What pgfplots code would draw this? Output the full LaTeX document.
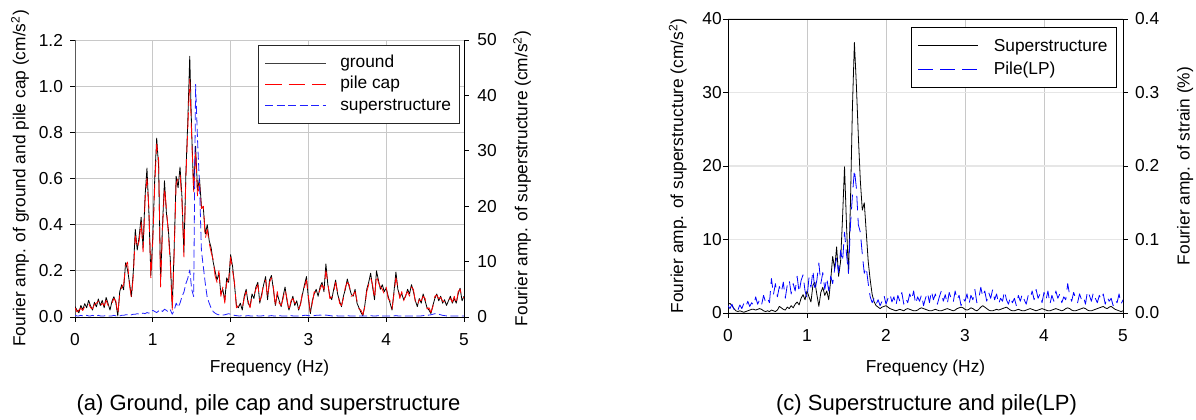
\documentclass[border=0pt]{standalone}
\usepackage{fontspec}
\setmainfont{Liberation Sans}
\usepackage{pgfplots}
\usepackage{pgfplotstable}
\pgfplotsset{compat=1.18}

\definecolor{GridGray}{HTML}{C8C8C8}
\definecolor{GridLight}{HTML}{E6E6E6}
\definecolor{CurveRed}{HTML}{FF0000}
\definecolor{CurveBlue}{HTML}{2020FF}
\definecolor{FrameGray}{HTML}{5A5A5A}

\newcommand{\lbl}{\fontsize{13}{15}\selectfont}

% (a) ground, pile cap [cm/s2, left axis], superstructure [cm/s2, right axis]
\pgfplotstableread{
f g p s
0.000 0.045 0.040 0.3
0.025 0.030 0.022 0.2
0.050 0.018 0.030 0.2
0.075 0.050 0.038 0.3
0.100 0.032 0.028 0.2
0.125 0.058 0.045 0.2
0.150 0.040 0.052 0.3
0.175 0.072 0.060 0.2
0.200 0.048 0.040 0.2
0.225 0.030 0.036 0.3
0.250 0.064 0.055 0.2
0.275 0.044 0.060 0.2
0.300 0.078 0.068 0.3
0.325 0.050 0.045 0.2
0.350 0.072 0.060 0.2
0.375 0.040 0.050 0.2
0.400 0.085 0.072 0.3
0.425 0.058 0.050 0.2
0.450 0.030 0.044 0.2
0.475 0.068 0.060 0.2
0.500 0.088 0.080 0.3
0.525 0.062 0.070 0.2
0.550 0.005 0.012 0.1
0.575 0.110 0.098 0.2
0.600 0.140 0.130 0.3
0.625 0.118 0.140 0.3
0.650 0.235 0.222 0.4
0.675 0.205 0.238 0.4
0.700 0.150 0.138 0.3
0.725 0.088 0.085 0.4
0.750 0.200 0.180 0.5
0.775 0.380 0.352 0.5
0.800 0.290 0.300 0.6
0.825 0.350 0.330 0.5
0.850 0.432 0.410 0.6
0.875 0.300 0.282 0.7
0.900 0.520 0.500 0.6
0.925 0.645 0.600 0.8
0.950 0.450 0.470 0.7
0.975 0.180 0.170 0.9
1.000 0.350 0.330 1.2
1.025 0.600 0.570 1.0
1.050 0.775 0.750 0.8
1.075 0.650 0.680 1.1
1.100 0.160 0.130 1.3
1.125 0.400 0.380 1.0
1.150 0.590 0.560 1.4
1.175 0.450 0.470 1.2
1.200 0.380 0.360 0.9
1.225 0.250 0.230 1.3
1.250 0.040 0.030 0.5
1.275 0.300 0.280 1.2
1.300 0.610 0.580 2.5
1.325 0.560 0.600 1.8
1.350 0.650 0.620 2.5
1.375 0.520 0.500 3.7
1.400 0.280 0.260 4.5
1.425 0.620 0.600 6.0
1.450 0.850 0.820 7.0
1.475 1.130 1.030 8.5
1.500 0.800 0.780 5.0
1.525 0.550 0.540 3.7
1.550 0.740 0.720 42.0
1.575 0.550 0.520 32.0
1.600 0.600 0.580 24.0
1.625 0.480 0.470 12.0
1.650 0.470 0.480 9.0
1.675 0.360 0.340 6.0
1.700 0.400 0.380 3.5
1.725 0.330 0.320 2.5
1.750 0.300 0.280 1.6
1.775 0.240 0.250 1.0
1.800 0.200 0.180 0.7
1.825 0.160 0.150 0.5
1.850 0.190 0.200 0.4
1.875 0.100 0.090 0.3
1.900 0.120 0.130 0.35
1.925 0.070 0.060 0.4
1.950 0.170 0.150 0.5
1.975 0.150 0.160 0.6
2.000 0.270 0.260 0.5
2.025 0.220 0.200 0.4
2.050 0.140 0.150 0.3
2.075 0.050 0.040 0.25
2.100 0.040 0.050 0.2
2.125 0.060 0.045 0.2
2.150 0.030 0.040 0.25
2.175 0.090 0.080 0.2
2.200 0.120 0.110 0.2
2.225 0.060 0.070 0.25
2.250 0.045 0.040 0.2
2.275 0.100 0.090 0.2
2.300 0.080 0.095 0.2
2.325 0.130 0.120 0.25
2.350 0.150 0.140 0.2
2.375 0.060 0.070 0.2
2.400 0.100 0.090 0.2
2.425 0.140 0.150 0.25
2.450 0.175 0.160 0.2
2.475 0.075 0.085 0.2
2.500 0.160 0.150 0.2
2.525 0.180 0.170 0.25
2.550 0.120 0.130 0.2
2.575 0.050 0.045 0.2
2.600 0.100 0.110 0.2
2.625 0.070 0.060 0.25
2.650 0.045 0.050 0.2
2.675 0.090 0.080 0.2
2.700 0.130 0.120 0.2
2.725 0.070 0.080 0.2
2.750 0.030 0.025 0.2
2.775 0.060 0.070 0.25
2.800 0.090 0.080 0.2
2.825 0.050 0.060 0.2
2.850 0.070 0.065 0.2
2.875 0.030 0.035 0.2
2.900 0.060 0.055 0.2
2.925 0.100 0.110 0.25
2.950 0.140 0.130 0.3
2.975 0.175 0.160 0.3
3.000 0.080 0.090 0.25
3.025 0.015 0.020 0.2
3.050 0.070 0.060 0.2
3.075 0.100 0.110 0.25
3.100 0.120 0.100 0.3
3.125 0.090 0.095 0.3
3.150 0.130 0.120 0.35
3.175 0.150 0.140 0.3
3.200 0.110 0.120 0.3
3.225 0.230 0.200 0.35
3.250 0.140 0.150 0.3
3.275 0.090 0.080 0.25
3.300 0.075 0.085 0.2
3.325 0.120 0.110 0.2
3.350 0.160 0.150 0.25
3.375 0.100 0.110 0.2
3.400 0.070 0.060 0.2
3.425 0.045 0.050 0.2
3.450 0.090 0.080 0.2
3.475 0.120 0.130 0.2
3.500 0.165 0.150 0.25
3.525 0.130 0.140 0.2
3.550 0.100 0.090 0.2
3.575 0.090 0.095 0.2
3.600 0.120 0.110 0.2
3.625 0.060 0.070 0.2
3.650 0.040 0.035 0.2
3.675 0.020 0.030 0.2
3.700 0.005 0.010 0.2
3.725 0.050 0.045 0.2
3.750 0.120 0.110 0.2
3.775 0.150 0.140 0.2
3.800 0.190 0.170 0.25
3.825 0.130 0.140 0.2
3.850 0.075 0.080 0.2
3.875 0.200 0.180 0.2
3.900 0.160 0.150 0.25
3.925 0.120 0.130 0.2
3.950 0.140 0.120 0.2
3.975 0.110 0.100 0.2
4.000 0.125 0.130 0.2
4.025 0.090 0.080 0.2
4.050 0.060 0.070 0.2
4.075 0.030 0.035 0.2
4.100 0.110 0.100 0.2
4.125 0.195 0.170 0.25
4.150 0.120 0.130 0.2
4.175 0.090 0.080 0.2
4.200 0.100 0.110 0.2
4.225 0.075 0.070 0.2
4.250 0.090 0.095 0.2
4.275 0.120 0.110 0.2
4.300 0.100 0.090 0.2
4.325 0.140 0.130 0.2
4.350 0.110 0.120 0.2
4.375 0.070 0.065 0.2
4.400 0.045 0.050 0.2
4.425 0.080 0.075 0.2
4.450 0.060 0.070 0.2
4.475 0.100 0.090 0.25
4.500 0.070 0.080 0.3
4.525 0.040 0.035 0.3
4.550 0.030 0.040 0.35
4.575 0.015 0.020 0.4
4.600 0.050 0.045 0.5
4.625 0.080 0.090 0.6
4.650 0.100 0.095 0.6
4.675 0.070 0.080 0.5
4.700 0.090 0.085 0.4
4.725 0.060 0.070 0.3
4.750 0.075 0.065 0.25
4.775 0.050 0.060 0.2
4.800 0.070 0.075 0.2
4.825 0.090 0.080 0.2
4.850 0.060 0.065 0.2
4.875 0.080 0.090 0.2
4.900 0.060 0.055 0.2
4.925 0.100 0.110 0.2
4.950 0.125 0.120 0.2
4.975 0.070 0.080 0.2
5.000 0.090 0.085 0.2
}\tabA

% (c) superstructure [cm/s2, left axis], pile LP strain [%, right axis]
\pgfplotstableread{
f sup pile
0.000 1.2 0.010
0.025 1.3 0.006
0.050 1.0 0.012
0.075 0.6 0.005
0.100 0.3 0.009
0.125 0.2 0.004
0.150 0.3 0.011
0.175 0.2 0.006
0.200 0.1 0.013
0.225 0.2 0.008
0.250 0.3 0.016
0.275 0.4 0.009
0.300 0.5 0.014
0.325 0.5 0.010
0.350 0.4 0.022
0.375 0.5 0.012
0.400 0.6 0.018
0.425 0.5 0.011
0.450 0.3 0.024
0.475 0.2 0.015
0.500 0.3 0.020
0.525 0.2 0.014
0.550 0.4 0.047
0.575 0.3 0.025
0.600 0.2 0.040
0.625 0.4 0.022
0.650 0.9 0.036
0.675 0.7 0.028
0.700 0.5 0.042
0.725 0.4 0.020
0.750 0.8 0.038
0.775 0.6 0.045
0.800 1.0 0.026
0.825 0.7 0.040
0.850 1.2 0.030
0.875 1.5 0.050
0.900 1.1 0.028
0.925 2.0 0.044
0.950 2.5 0.052
0.975 1.8 0.030
1.000 3.0 0.020
1.025 2.2 0.048
1.050 1.5 0.035
1.075 3.8 0.058
1.100 4.2 0.030
1.125 2.5 0.045
1.150 0.9 0.068
1.175 2.8 0.040
1.200 3.5 0.055
1.225 2.4 0.032
1.250 3.0 0.048
1.275 1.8 0.030
1.300 4.5 0.050
1.325 7.7 0.040
1.350 6.0 0.060
1.375 9.0 0.075
1.400 5.0 0.055
1.425 7.0 0.085
1.450 13.0 0.070
1.475 19.9 0.110
1.500 12.0 0.080
1.525 5.4 0.054
1.550 15.0 0.120
1.575 28.0 0.160
1.600 36.8 0.195
1.625 31.0 0.170
1.650 24.0 0.120
1.675 18.0 0.110
1.700 14.0 0.080
1.725 15.0 0.054
1.750 11.0 0.062
1.775 7.0 0.040
1.800 4.5 0.022
1.825 2.5 0.014
1.850 1.5 0.020
1.875 1.0 0.012
1.900 0.8 0.018
1.925 0.6 0.010
1.950 0.8 0.016
1.975 0.9 0.024
2.000 1.0 0.012
2.025 0.8 0.020
2.050 0.6 0.026
2.075 0.5 0.015
2.100 0.4 0.022
2.125 0.3 0.010
2.150 0.4 0.024
2.175 0.5 0.016
2.200 0.4 0.028
2.225 0.3 0.012
2.250 0.5 0.020
2.275 0.6 0.014
2.300 0.5 0.026
2.325 0.4 0.018
2.350 0.3 0.030
2.375 0.3 0.012
2.400 0.4 0.022
2.425 0.6 0.016
2.450 0.7 0.025
2.475 0.6 0.010
2.500 0.5 0.020
2.525 0.4 0.028
2.550 0.3 0.014
2.575 0.3 0.030
2.600 0.4 0.018
2.625 0.5 0.026
2.650 0.4 0.012
2.675 0.3 0.022
2.700 0.3 0.030
2.725 0.4 0.016
2.750 0.5 0.025
2.775 0.6 0.012
2.800 0.5 0.028
2.825 0.4 0.020
2.850 0.3 0.014
2.875 0.4 0.030
2.900 0.6 0.018
2.925 0.7 0.024
2.950 0.8 0.010
2.975 0.7 0.020
3.000 0.5 0.016
3.025 0.4 0.026
3.050 0.5 0.012
3.075 0.7 0.024
3.100 0.6 0.018
3.125 0.4 0.032
3.150 0.3 0.014
3.175 0.5 0.020
3.200 0.8 0.035
3.225 1.0 0.022
3.250 0.8 0.030
3.275 0.6 0.016
3.300 0.4 0.028
3.325 0.3 0.020
3.350 0.3 0.032
3.375 0.4 0.018
3.400 0.5 0.026
3.425 0.4 0.012
3.450 0.5 0.020
3.475 0.6 0.016
3.500 0.7 0.030
3.525 0.8 0.018
3.550 0.6 0.012
3.575 0.4 0.022
3.600 0.3 0.014
3.625 0.3 0.020
3.650 0.4 0.010
3.675 0.5 0.024
3.700 0.4 0.016
3.725 0.3 0.026
3.750 0.3 0.018
3.775 0.4 0.012
3.800 0.5 0.024
3.825 0.6 0.020
3.850 0.5 0.030
3.875 0.4 0.018
3.900 0.3 0.032
3.925 0.4 0.020
3.950 0.5 0.026
3.975 0.6 0.014
4.000 0.5 0.028
4.025 0.4 0.018
4.050 0.3 0.030
4.075 0.3 0.012
4.100 0.4 0.024
4.125 0.5 0.016
4.150 0.6 0.030
4.175 0.5 0.020
4.200 0.4 0.026
4.225 0.3 0.014
4.250 0.4 0.022
4.275 0.6 0.018
4.300 0.7 0.040
4.325 0.6 0.024
4.350 0.4 0.016
4.375 0.3 0.028
4.400 0.3 0.020
4.425 0.4 0.014
4.450 0.5 0.026
4.475 0.6 0.018
4.500 0.7 0.022
4.525 0.6 0.012
4.550 0.4 0.030
4.575 0.3 0.024
4.600 0.3 0.016
4.625 0.4 0.028
4.650 0.5 0.020
4.675 0.6 0.014
4.700 0.7 0.024
4.725 0.8 0.018
4.750 0.9 0.026
4.775 0.7 0.012
4.800 0.6 0.022
4.825 0.8 0.016
4.850 0.9 0.020
4.875 0.7 0.010
4.900 0.5 0.018
4.925 0.4 0.014
4.950 0.3 0.026
4.975 0.2 0.012
5.000 0.3 0.018
}\tabC

\pgfplotsset{
  panel/.style={
    scale only axis,
    anchor=south west,
    xmin=0, xmax=5,
    xtick={0,1,2,3,4,5},
    tick label style={font=\lbl},
    label style={font=\lbl},
    /pgf/number format/assume math mode=true,
    tick align=outside,
    major tick length=3.5pt,
    tick style={black, line width=0.6pt},
    axis line style={-, line width=0.75pt},
    every axis plot/.append style={line width=0.6pt, line join=round},
  },
  onedec/.style={yticklabel style={/pgf/number format/fixed,
      /pgf/number format/fixed zerofill, /pgf/number format/precision=1}},
}

\begin{document}
\begin{tikzpicture}
\useasboundingbox (0pt,0pt) rectangle (897pt,-314.25pt);

% ---------- (a) ----------
\begin{axis}[panel,
  at={(56.25pt,-237.75pt)}, width=291.75pt, height=207.75pt,
  ymin=0, ymax=1.2, ytick={0,0.2,0.4,0.6,0.8,1.0,1.2}, onedec,
  axis x line*=bottom, axis y line*=left,
  y axis line style={FrameGray},
  xmajorgrids, ymajorgrids, grid style={GridGray, line width=0.6pt},
  xticklabel style={yshift=-5.5pt},
  yticklabel style={xshift=-2pt},
  xlabel={Frequency (Hz)},
  xlabel style={at={(axis description cs:0.5,0)}, anchor=center, yshift=-38pt},
  ylabel={Fourier amp. of ground and pile cap (cm/s\textsuperscript{2})},
  ylabel style={at={(axis description cs:-0.141,0.5)}, anchor=center},
]
\addplot[black] table[x=f, y=g] {\tabA};
\addplot[CurveRed, dash pattern=on 12.5pt off 5pt] table[x=f, y=p] {\tabA};
\end{axis}

\begin{axis}[panel,
  at={(56.25pt,-237.75pt)}, width=291.75pt, height=207.75pt,
  ymin=0, ymax=50, ytick={0,10,20,30,40,50},
  axis x line=none, axis y line*=right,
  yticklabel style={xshift=3pt},
  ylabel={Fourier amp. of superstructure (cm/s\textsuperscript{2})},
  ylabel style={at={(axis description cs:1.149,0.5)}, anchor=center},
  legend cell align=left,
  legend style={at={(axis description cs:0.9897,0.982)}, anchor=north east,
    draw=black!85, fill=white, line width=0.6pt, font=\lbl,
    inner xsep=4.5pt, inner ysep=5.5pt, row sep=0pt,
    nodes={inner sep=1.9pt, text height=9.5pt, text depth=2.5pt}},
  legend image code/.code={\draw[#1] (0pt,0pt) -- (45.5pt,0pt);},
]
\addlegendimage{black!75, line width=0.6pt}
\addlegendentry{\hspace{8.6pt}ground}
\addlegendimage{CurveRed, line width=0.6pt, dash pattern=on 12.5pt off 5pt}
\addlegendentry{\hspace{8.6pt}pile cap}
\addplot[CurveBlue, dash pattern=on 6pt off 2.6pt] table[x=f, y=s] {\tabA};
\addlegendentry{\hspace{8.6pt}superstructure}
\end{axis}

\node[font=\fontsize{16.5}{19}\selectfont] at (201.4pt,-303.75pt) {(a) Ground, pile cap and superstructure};

% ---------- (c) ----------
\begin{axis}[panel,
  at={(546pt,-234.75pt)}, width=296.25pt, height=220.5pt,
  ymin=0, ymax=40, ytick={0,10,20,30,40},
  xtick pos=left, ytick pos=left,
  xmajorgrids, ymajorgrids,
  x grid style={GridGray, line width=0.6pt},
  y grid style={GridLight, line width=0.8pt},
  xticklabel style={yshift=-5.5pt},
  yticklabel style={inner sep=1pt},
  xlabel={Frequency (Hz)},
  xlabel style={at={(axis description cs:0.5,0)}, anchor=center, yshift=-41pt},
  ylabel={Fourier amp. of superstructure (cm/s\textsuperscript{2})},
  ylabel style={at={(axis description cs:-0.127,0.5)}, anchor=center},
]
\addplot[black] table[x=f, y=sup] {\tabC};
\end{axis}

\begin{axis}[panel,
  at={(546pt,-234.75pt)}, width=296.25pt, height=220.5pt,
  ymin=0, ymax=0.4, ytick={0,0.1,0.2,0.3,0.4}, onedec,
  axis x line=none, axis y line*=right,
  yticklabel style={xshift=2pt},
  ylabel={Fourier amp. of strain (\%)},
  ylabel style={at={(axis description cs:1.157,0.5)}, anchor=center},
  legend cell align=left,
  legend style={at={(axis description cs:0.985,0.973)}, anchor=north east,
    draw=black, fill=white, line width=0.6pt, font=\lbl,
    inner xsep=5pt, inner ysep=5pt, row sep=0pt,
    nodes={inner sep=1.9pt, text height=11pt, text depth=2.7pt}},
  legend image code/.code={\draw[#1] (0pt,0pt) -- (45pt,0pt);},
]
\addlegendimage{black, line width=0.6pt}
\addlegendentry{\hspace{9.3pt}Superstructure}
\addplot[blue, dash pattern=on 11pt off 5.5pt] table[x=f, y=pile] {\tabC};
\addlegendentry{\hspace{9.3pt}Pile(LP)}
\end{axis}

\node[font=\fontsize{16.5}{19}\selectfont] at (694.9pt,-303.75pt) {(c) Superstructure and pile(LP)};
\end{tikzpicture}
\end{document}
